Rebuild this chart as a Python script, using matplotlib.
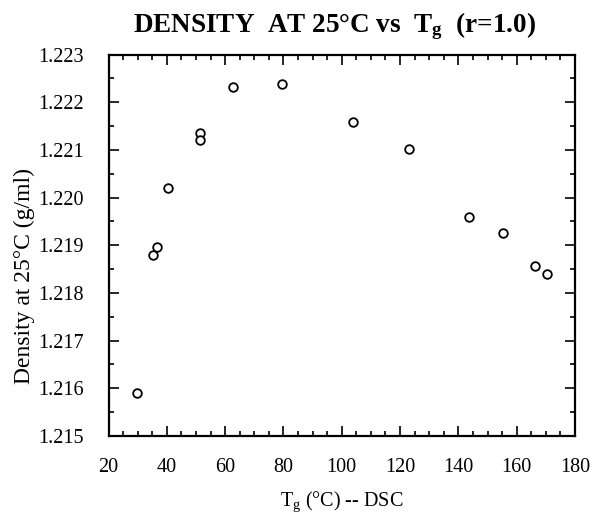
import matplotlib
matplotlib.use("Agg")
import matplotlib.pyplot as plt
from matplotlib.ticker import MultipleLocator, FormatStrFormatter

plt.rcParams["font.family"] = ["Liberation Serif", "DejaVu Serif"]
plt.rcParams["mathtext.fontset"] = "custom"
plt.rcParams["mathtext.rm"] = "Liberation Serif"
plt.rcParams["mathtext.it"] = "Liberation Serif"
plt.rcParams["mathtext.bf"] = "Liberation Serif:bold"

# glass transition temperature (DSC) and density at 25 C
tg = [29.7, 35.4, 36.5, 40.3, 51.4, 51.4, 62.6, 79.4, 104.0, 122.9, 143.8, 155.4, 166.3, 170.3]
density = [1.21590, 1.21880, 1.21897, 1.22020, 1.22135, 1.22121, 1.22232, 1.22238,
           1.22159, 1.22102, 1.21959, 1.21926, 1.21857, 1.21839]

x_limits = (20, 180)
y_limits = (1.215, 1.223)

fig = plt.figure(figsize=(5.93, 5.15), dpi=100)
ax = fig.add_axes([0.183, 0.1534, 0.7866, 0.7406])

ax.plot(tg, density, linestyle="none", marker="o", markersize=6.2,
        markerfacecolor="white", markeredgecolor="black", markeredgewidth=1.3)

ax.set_xlim(*x_limits)
ax.set_ylim(*y_limits)
ax.xaxis.set_major_locator(MultipleLocator(20))
ax.xaxis.set_minor_locator(MultipleLocator(5))
ax.yaxis.set_major_locator(MultipleLocator(0.001))
ax.yaxis.set_minor_locator(MultipleLocator(0.0005))
ax.yaxis.set_major_formatter(FormatStrFormatter("%.3f"))

ax.tick_params(which="both", direction="in", top=True, right=True, width=1.2, colors="black")
ax.tick_params(which="major", length=7, labelsize=14.5)
ax.tick_params(axis="y", which="major", pad=18)
ax.tick_params(axis="x", which="major", pad=16)
ax.tick_params(which="minor", length=3.5)
for spine in ax.spines.values():
    spine.set_linewidth(1.6)

ax.set_title(r"DENSITY  AT 25°C vs  T$_{\mathbf{g}}$  (r=1.0)", fontsize=19.5,
             fontweight="bold", x=0.485, pad=16)
ax.set_xlabel(r"T$_{\rm g}$ (°C) -- DSC", fontsize=14.5, labelpad=9)
ax.set_ylabel("Density at 25°C (g/ml)", fontsize=17)
ax.yaxis.set_label_coords(-0.158, 0.42)

fig.savefig("out.png", dpi=100)
